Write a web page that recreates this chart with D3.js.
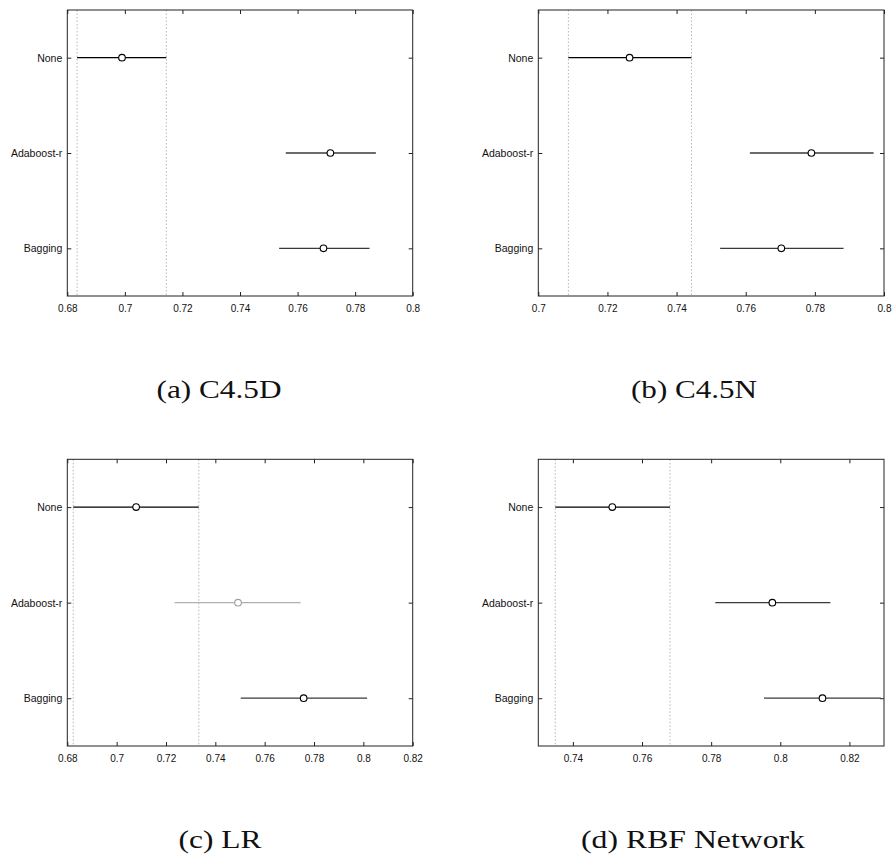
<!DOCTYPE html>
<html>
<head>
<meta charset="utf-8">
<script src="https://cdn.jsdelivr.net/npm/d3@7"></script>
<style>
  html, body { margin: 0; padding: 0; background: #fff; }
  svg { display: block; }
</style>
</head>
<body>
<svg id="chart" width="893" height="855"></svg>
<script>
// ---- data ----
const categories = ["None", "Adaboost-r", "Bagging"];

const c45dMean = [0.6990, 0.7714, 0.7690];
const c45dLow  = [0.6834, 0.7559, 0.7536];
const c45dHigh = [0.7144, 0.7872, 0.7850];
const c45dDomain = [0.68, 0.80];
const c45dTicks = [0.68, 0.70, 0.72, 0.74, 0.76, 0.78, 0.80];
const c45dGray = [false, false, false];

const c45nMean = [0.7264, 0.7790, 0.7703];
const c45nLow  = [0.7087, 0.7612, 0.7526];
const c45nHigh = [0.7443, 0.7970, 0.7883];
const c45nDomain = [0.70, 0.80];
const c45nTicks = [0.70, 0.72, 0.74, 0.76, 0.78, 0.80];
const c45nGray = [false, false, false];

const lrMean = [0.7079, 0.7492, 0.7758];
const lrLow  = [0.6824, 0.7235, 0.7503];
const lrHigh = [0.7333, 0.7746, 0.8015];
const lrDomain = [0.68, 0.82];
const lrTicks = [0.68, 0.70, 0.72, 0.74, 0.76, 0.78, 0.80, 0.82];
const lrGray = [false, true, false];

const rbfMean = [0.7514, 0.7977, 0.8122];
const rbfLow  = [0.7349, 0.7812, 0.7953];
const rbfHigh = [0.7681, 0.8145, 0.8291];
const rbfDomain = [0.73, 0.83];
const rbfTicks = [0.74, 0.76, 0.78, 0.80, 0.82];
const rbfGray = [false, false, false];

const captions = ["(a) C4.5D", "(b) C4.5N", "(c) LR", "(d) RBF Network"];

// ---- layout ----
const svg = d3.select("#chart");
const panels = [
  {mean: c45dMean, low: c45dLow, high: c45dHigh, domain: c45dDomain, ticks: c45dTicks, gray: c45dGray,
   x0: 67.3, x1: 412.7, y0: 10, y1: 296, cap: captions[0], capX: 219, capY: 398, capW: 125},
  {mean: c45nMean, low: c45nLow, high: c45nHigh, domain: c45nDomain, ticks: c45nTicks, gray: c45nGray,
   x0: 538.3, x1: 884, y0: 10, y1: 296, cap: captions[1], capX: 694, capY: 398, capW: 126},
  {mean: lrMean, low: lrLow, high: lrHigh, domain: lrDomain, ticks: lrTicks, gray: lrGray,
   x0: 67.3, x1: 412.7, y0: 459.3, y1: 746, cap: captions[2], capX: 220, capY: 848, capW: 83},
  {mean: rbfMean, low: rbfLow, high: rbfHigh, domain: rbfDomain, ticks: rbfTicks, gray: rbfGray,
   x0: 538.3, x1: 884, y0: 459.3, y1: 746, cap: captions[3], capX: 693, capY: 848, capW: 224}
];

const fmt = v => String(+v.toFixed(2));

panels.forEach(p => {
  const x = d3.scaleLinear().domain(p.domain).range([p.x0, p.x1]);
  const y = d3.scalePoint().domain(categories).range([p.y0, p.y1]).padding(0.5);
  const g = svg.append("g");

  // reference dotted lines at the "None" interval bounds
  [p.low[0], p.high[0]].forEach(v => {
    g.append("line")
      .attr("x1", x(v)).attr("x2", x(v))
      .attr("y1", p.y0).attr("y2", p.y1)
      .attr("stroke", "#b5b5b5").attr("stroke-width", 1)
      .attr("stroke-dasharray", "1.5,2");
  });

  // x axis (bottom) with labels, inward ticks
  const xb = g.append("g").attr("transform", `translate(0,${p.y1})`)
    .call(d3.axisBottom(x).tickValues(p.ticks).tickFormat(fmt).tickSizeInner(-4).tickSizeOuter(0).tickPadding(9));
  xb.select(".domain").remove();
  xb.selectAll("line").attr("stroke", "#222");
  xb.selectAll("text").attr("font-family", "Liberation Sans, Arial, sans-serif")
    .attr("font-size", 10).attr("fill", "#111");

  // x axis (top) inward ticks only
  const xt = g.append("g").attr("transform", `translate(0,${p.y0})`)
    .call(d3.axisTop(x).tickValues(p.ticks).tickFormat("").tickSizeInner(-4).tickSizeOuter(0));
  xt.select(".domain").remove();
  xt.selectAll("line").attr("stroke", "#222");

  // y axis (left) with labels
  const yl = g.append("g").attr("transform", `translate(${p.x0},0)`)
    .call(d3.axisLeft(y).tickSizeInner(-4).tickSizeOuter(0).tickPadding(5));
  yl.select(".domain").remove();
  yl.selectAll("line").attr("stroke", "#222");
  yl.selectAll("text").attr("font-family", "Liberation Sans, Arial, sans-serif")
    .attr("font-size", 10.5).attr("fill", "#111");

  // y axis (right) inward ticks
  const yr = g.append("g").attr("transform", `translate(${p.x1},0)`)
    .call(d3.axisRight(y).tickFormat("").tickSizeInner(-4).tickSizeOuter(0));
  yr.select(".domain").remove();
  yr.selectAll("line").attr("stroke", "#222");

  // frame
  g.append("rect")
    .attr("x", p.x0).attr("y", p.y0)
    .attr("width", p.x1 - p.x0).attr("height", p.y1 - p.y0)
    .attr("fill", "none").attr("stroke", "#222").attr("stroke-width", 1);

  // error bars
  const rows = categories.map((c, i) => ({c, i, mean: p.mean[i], low: p.low[i], high: p.high[i], gray: p.gray[i]}));
  g.selectAll("line.eb").data(rows).enter().append("line")
    .attr("class", "eb")
    .attr("x1", d => x(d.low)).attr("x2", d => x(Math.min(d.high, p.domain[1])))
    .attr("y1", d => y(d.c)).attr("y2", d => y(d.c))
    .attr("stroke", d => d.gray ? "#b0b0b0" : (d.i === 0 ? "#000" : "#3a3a3a"))
    .attr("stroke-width", 1.3);
  g.selectAll("circle.mk").data(rows).enter().append("circle")
    .attr("class", "mk")
    .attr("cx", d => x(d.mean)).attr("cy", d => y(d.c)).attr("r", 3.3)
    .attr("fill", "#fff")
    .attr("stroke", d => d.gray ? "#a0a0a0" : "#000")
    .attr("stroke-width", 1.1);

  // caption
  svg.append("text")
    .attr("x", p.capX).attr("y", p.capY)
    .attr("text-anchor", "middle")
    .attr("font-family", "Liberation Serif, 'Times New Roman', serif")
    .attr("font-size", 26)
    .attr("fill", "#111")
    .attr("textLength", p.capW)
    .attr("lengthAdjust", "spacingAndGlyphs")
    .text(p.cap);
});
</script>
</body>
</html>
